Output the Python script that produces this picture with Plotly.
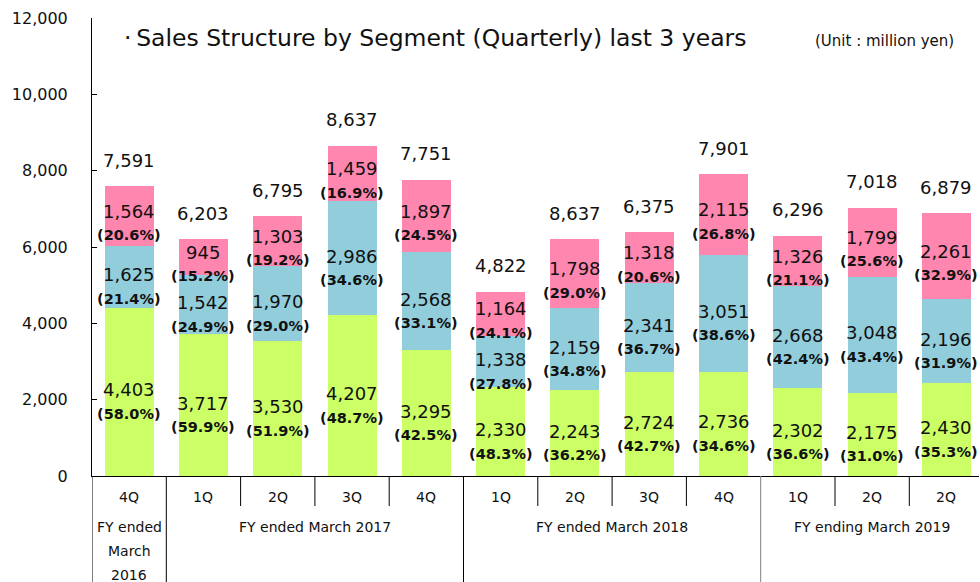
import plotly.graph_objects as go

quarters = ["4Q", "1Q", "2Q", "3Q", "4Q", "1Q", "2Q", "3Q", "4Q", "1Q", "2Q", "2Q"]
green = [4403, 3717, 3530, 4207, 3295, 2330, 2243, 2724, 2736, 2302, 2175, 2430]
blue = [1625, 1542, 1970, 2986, 2568, 1338, 2159, 2341, 3051, 2668, 3048, 2196]
pink = [1564, 945, 1303, 1459, 1897, 1164, 1798, 1318, 2115, 1326, 1799, 2261]
green_pct = ["58.0", "59.9", "51.9", "48.7", "42.5", "48.3", "36.2", "42.7", "34.6", "36.6", "31.0", "35.3"]
blue_pct = ["21.4", "24.9", "29.0", "34.6", "33.1", "27.8", "34.8", "36.7", "38.6", "42.4", "43.4", "31.9"]
pink_pct = ["20.6", "15.2", "19.2", "16.9", "24.5", "24.1", "29.0", "20.6", "26.8", "21.1", "25.6", "32.9"]
total_labels = ["7,591", "6,203", "6,795", "8,637", "7,751", "4,822", "8,637", "6,375", "7,901", "6,296", "7,018", "6,879"]
groups = [(["FY ended", "March", "2016"], 0, 0), (["FY ended March 2017"], 1, 4),
          (["FY ended March 2018"], 5, 8), (["FY ending March 2019"], 9, 11)]
y_ticks = [0, 2000, 4000, 6000, 8000, 10000, 12000]

FONT = "DejaVu Sans"
TXT = "#111111"
x = list(range(len(quarters)))
PLOT_BOTTOM_PX, PLOT_H = 476, 458


def py(px):
    return (PLOT_BOTTOM_PX - px) / PLOT_H


fig = go.Figure()
for vals, col in [(green, "#ccff66"), (blue, "#92cddc"), (pink, "#ff86ae")]:
    fig.add_trace(go.Bar(x=x, y=vals, marker=dict(color=col, line=dict(width=0)),
                         width=0.66, hoverinfo="skip"))

ann = []
for i in x:
    base = 0
    for vals, pcts, up in [(green, green_pct, 2), (blue, blue_pct, 2), (pink, pink_pct, 5)]:
        c = base + vals[i] / 2
        ann.append(dict(x=i, y=c, text=f"{vals[i]:,}", showarrow=False, yshift=up,
                        font=dict(family=FONT, size=18, color=TXT)))
        ann.append(dict(x=i, y=c, text=f"({pcts[i]}%)", showarrow=False, yshift=up - 24,
                        font=dict(family=FONT, size=14.5, color=TXT, weight="bold")))
        base += vals[i]
    ann.append(dict(x=i, y=base, text=total_labels[i], showarrow=False, yshift=26,
                    font=dict(family=FONT, size=18, color=TXT)))
    ann.append(dict(x=i, y=py(497), yref="paper", yanchor="middle", text=quarters[i],
                    showarrow=False, font=dict(family=FONT, size=14, color=TXT)))

for lines, a, b in groups:
    for k, line in enumerate(lines):
        ann.append(dict(x=(a + b) / 2, y=py(527 + 24 * k), yref="paper", yanchor="middle",
                        text=line, showarrow=False, font=dict(family=FONT, size=14, color=TXT)))

ann.append(dict(xref="paper", yref="paper", x=(122 - 92) / 887, y=py(38),
                xanchor="left", yanchor="middle", showarrow=False,
                text="·\u2009Sales Structure by Segment (Quarterly) last 3 years",
                font=dict(family=FONT, size=23.5, color=TXT)))
ann.append(dict(xref="paper", yref="paper", x=(956 - 92) / 887, y=py(41),
                xanchor="right", yanchor="middle", showarrow=False,
                text="(Unit : million yen)",
                font=dict(family=FONT, size=15, color=TXT)))

shapes = []
for i in range(len(quarters)):
    xb = i + 0.5
    long_line = xb in (0.5, 4.5, 8.5)
    shapes.append(dict(type="line", xref="x", yref="paper", x0=xb, x1=xb, y0=0,
                       y1=-0.24 if long_line else py(506),
                       line=dict(color="#808080" if xb == 8.5 else "#000000", width=1)))
shapes.append(dict(type="line", xref="x", yref="paper", x0=-0.5, x1=-0.5, y0=0, y1=-0.24,
                   line=dict(color="#000000", width=1)))

fig.update_layout(
    width=980, height=582,
    margin=dict(l=92, r=1, t=18, b=106),
    barmode="stack", showlegend=False,
    paper_bgcolor="white", plot_bgcolor="white",
    annotations=ann, shapes=shapes,
    bargap=0,
    xaxis=dict(range=[-0.5, 11.438], showticklabels=False, ticks="", showgrid=False,
               zeroline=False, showline=True, linecolor="black", linewidth=1, fixedrange=True),
    yaxis=dict(range=[0, 12000], tickvals=y_ticks, tickformat=",", ticks="inside", ticklen=5,
               tickcolor="black", showgrid=False, zeroline=False, showline=True,
               linecolor="black", linewidth=1, ticklabelstandoff=20, fixedrange=True,
               tickfont=dict(family=FONT, size=16, color=TXT)),
)

fig.write_html("out.html", config={"displayModeBar": False},
               post_script="document.body.style.margin='0';document.body.style.overflow='hidden';")
